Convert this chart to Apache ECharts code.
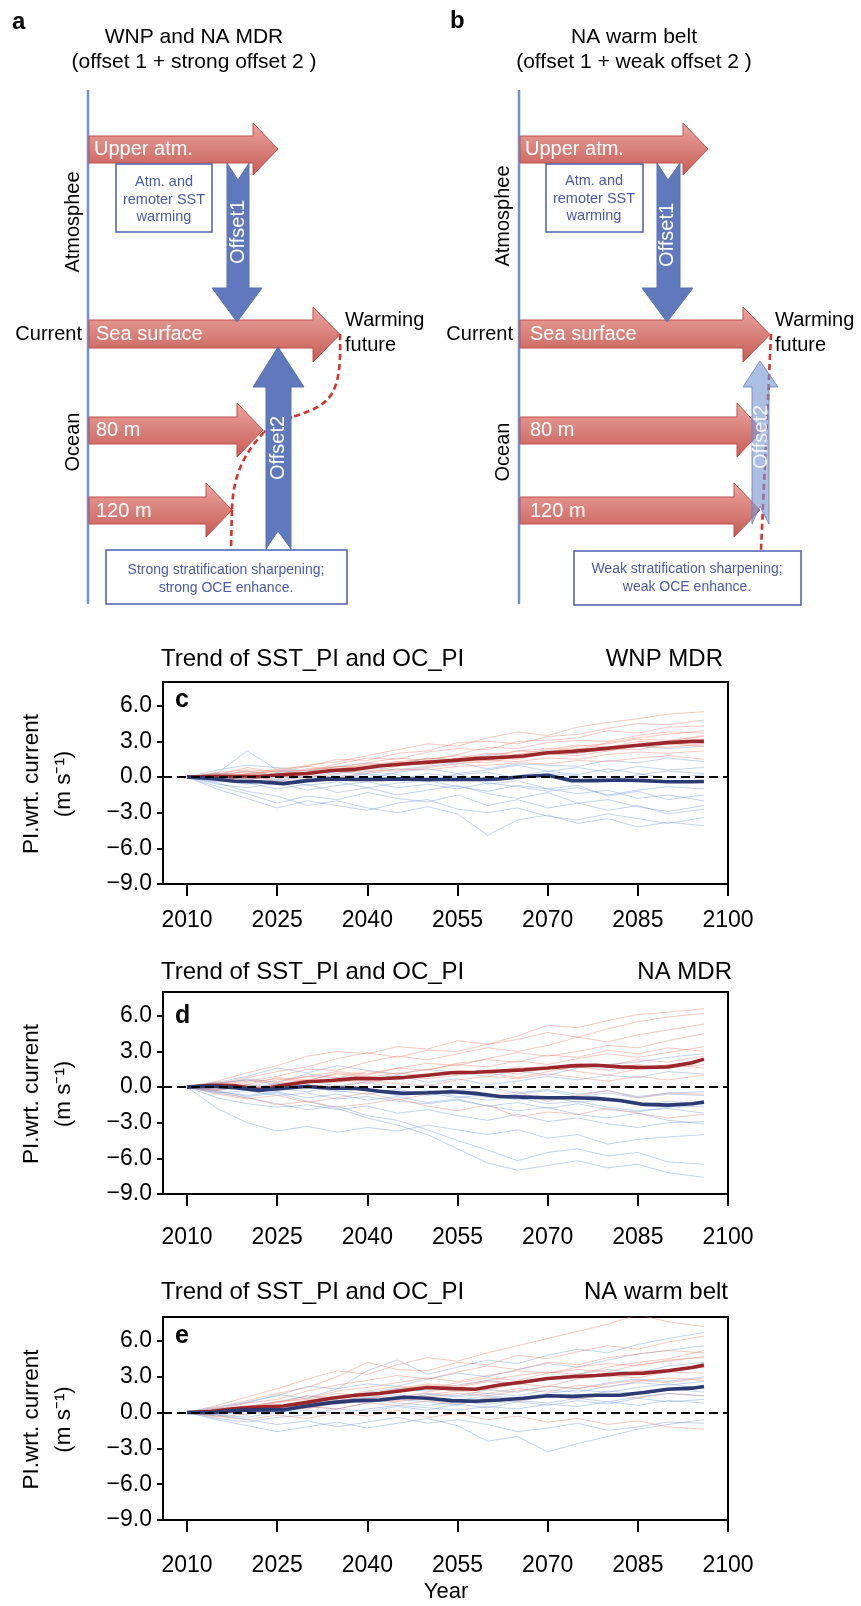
<!DOCTYPE html>
<html><head><meta charset="utf-8">
<script src="https://cdn.jsdelivr.net/npm/echarts@6/dist/echarts.min.js"></script>
<style>html,body{margin:0;padding:0;background:#fff}#main{width:861px;height:1606px}</style>
</head><body><div id="main"></div>
<script>
// ---------- DATA ----------
const xTicks = [2010, 2025, 2040, 2055, 2070, 2085, 2100];
const yTicks = [-9, -6, -3, 0, 3, 6];
const panelTitles = ['Trend of SST_PI and OC_PI', 'Trend of SST_PI and OC_PI', 'Trend of SST_PI and OC_PI'];
const regionNames = ['WNP MDR', 'NA MDR', 'NA warm belt'];
const panelLetters = ['c', 'd', 'e'];

// years for ensemble means
const yearsMean = [2010,2014,2018,2022,2026,2030,2034,2038,2042,2046,2050,2054,2058,2062,2066,2070,2074,2078,2082,2086,2090,2094,2096];
// years for individual members
const yearsRun = [2010,2015,2020,2025,2030,2035,2040,2045,2050,2055,2060,2065,2070,2075,2080,2085,2090,2096];

// panel c (WNP MDR)
const cRedMean  = [0,0.05,0.05,0.05,0.2,0.3,0.55,0.65,0.93,1.1,1.25,1.38,1.55,1.65,1.77,2.05,2.15,2.33,2.53,2.72,2.9,3.0,3.0];
const cBlueMean = [0,-0.12,-0.35,-0.4,-0.55,-0.3,-0.15,-0.2,-0.2,-0.15,-0.2,-0.2,-0.2,-0.15,0.05,0.15,-0.3,-0.3,-0.25,-0.3,-0.4,-0.4,-0.37];
const cRedRuns = [
 [0,0.4,0.6,0.5,1.0,1.3,1.8,2.3,2.8,2.6,3.3,3.8,3.5,4.2,4.6,4.9,5.3,5.5],
 [0,0.2,0.8,0.4,0.9,1.5,1.4,2.0,2.2,2.9,3.0,2.8,3.4,3.6,4.1,4.5,4.4,4.8],
 [0,0.3,0.1,0.6,0.5,1.1,1.6,1.5,2.1,2.4,2.3,3.0,3.1,3.3,3.9,3.7,4.2,4.3],
 [0,-0.2,0.3,0.2,0.7,0.8,1.2,1.6,1.4,1.9,2.5,2.4,2.9,3.1,3.0,3.5,3.8,3.7],
 [0,0.1,-0.3,0.3,0.4,0.6,0.9,1.1,1.6,1.5,1.8,2.2,2.1,2.6,2.8,3.2,3.1,3.4],
 [0,-0.3,0.0,-0.2,0.3,0.5,0.4,0.9,1.2,1.3,1.2,1.7,1.9,2.0,2.4,2.3,2.8,2.6],
 [0,0.2,-0.1,0.1,-0.1,0.3,0.6,0.5,0.8,1.1,1.4,1.3,1.6,1.5,1.9,2.1,2.0,2.2],
 [0,-0.1,0.2,-0.4,0.1,0.0,0.3,0.7,0.6,0.9,1.0,1.2,1.1,1.4,1.3,1.6,1.8,1.5],
 [0,0.2,0.4,0.1,0.6,0.9,0.7,1.3,1.5,1.8,1.6,2.2,2.4,2.3,2.9,3.3,3.6,3.9],
 [0,-0.1,0.3,0.5,0.2,0.7,1.0,1.3,1.1,1.6,2.0,1.9,2.3,2.7,2.5,3.0,2.9,3.2],
 [0,0.3,0.2,0.7,0.9,0.6,1.1,1.0,1.4,1.3,1.7,1.5,2.0,1.8,2.2,2.6,2.5,2.8],
 [0,0.1,0.5,0.3,0.4,0.9,0.8,1.2,1.0,1.5,1.4,1.9,2.1,2.4,2.2,2.7,3.0,3.5]
];
const cBlueRuns = [
 [0,0.6,1.0,0.8,0.5,0.9,1.2,1.0,1.6,1.4,1.9,1.7,2.2,2.0,2.3,2.6,2.4,2.6],
 [0,0.3,-0.2,0.4,0.6,0.3,0.8,0.6,0.9,1.2,0.7,1.1,1.0,0.9,1.4,1.2,1.6,1.3],
 [0,-0.4,0.2,-0.3,0.1,-0.2,0.3,0.0,-0.4,0.2,0.4,-0.1,0.3,0.1,-0.3,0.2,0.5,0.3],
 [0,-0.6,-0.9,-0.5,-1.1,-0.7,-0.4,-0.9,-0.6,-1.0,-0.5,-0.8,-1.2,-0.9,-1.5,-1.1,-0.8,-1.0],
 [0,-0.8,-1.4,-2.2,-1.6,-1.9,-1.3,-1.8,-2.1,-1.5,-2.4,-1.9,-2.6,-2.2,-2.8,-2.4,-3.1,-2.7],
 [0,-1.0,-1.8,-2.6,-2.0,-2.4,-2.8,-2.2,-1.9,-2.7,-3.0,-2.6,-3.3,-3.6,-3.1,-3.5,-3.9,-3.4],
 [0,-0.5,-1.2,-1.6,-2.4,-2.0,-2.6,-3.0,-2.5,-3.1,-4.9,-3.6,-3.2,-3.9,-3.5,-4.2,-3.8,-4.1],
 [0,0.3,2.2,0.6,0.3,-0.2,0.5,0.2,-0.4,0.3,-0.6,-0.3,-1.0,-0.7,-1.6,-1.2,-1.9,-1.5],
 [0,-0.3,-0.6,-0.2,-0.7,-0.4,-0.9,-0.5,-0.3,-0.8,-1.2,-0.7,-1.0,-1.4,-1.1,-1.8,-1.5,-2.0],
 [0,0.2,0.5,0.1,-0.3,0.2,-0.1,0.4,0.7,0.3,0.6,1.0,0.5,0.8,0.4,0.9,0.6,0.8],
 [0,-0.2,-0.5,-1.0,-0.6,-1.3,-0.9,-1.5,-1.1,-0.7,-1.4,-1.8,-1.3,-2.2,-1.9,-2.5,-2.9,-2.4],
 [0,0.1,-0.3,0.3,-0.1,0.5,0.2,-0.2,0.3,0.0,-0.4,0.1,0.5,0.2,0.7,0.3,-0.1,0.2]
];

// panel d (NA MDR)
const dRedMean  = [0,0.15,0.1,-0.2,0.15,0.45,0.55,0.73,0.7,0.8,1.0,1.2,1.25,1.35,1.45,1.6,1.78,1.83,1.7,1.65,1.7,2.05,2.35];
const dBlueMean = [0,0.08,-0.05,-0.28,-0.1,0.05,-0.1,-0.1,-0.35,-0.53,-0.48,-0.4,-0.53,-0.8,-0.85,-0.9,-0.9,-0.95,-1.13,-1.46,-1.52,-1.4,-1.27];
const dRedRuns = [
 [0,0.5,1.2,1.8,2.6,3.0,2.8,3.4,3.2,3.9,3.6,4.3,5.2,5.0,5.6,6.1,6.3,6.6],
 [0,0.3,0.8,1.3,1.7,2.4,2.9,2.5,3.1,3.0,3.6,4.0,4.6,4.2,4.9,5.5,5.9,6.2],
 [0,0.2,0.5,0.9,1.5,1.4,2.1,2.6,2.3,2.8,3.3,3.0,3.5,4.2,3.8,4.4,4.8,5.3],
 [0,-0.2,0.4,0.7,0.5,1.2,1.0,1.6,2.0,1.8,2.4,2.9,2.6,3.0,3.5,3.3,3.9,4.5],
 [0,0.3,0.0,0.6,0.9,0.8,1.3,1.1,1.5,1.9,1.7,2.2,1.9,2.4,2.8,2.5,2.9,3.4],
 [0,-0.3,0.2,-0.1,0.4,0.6,0.3,0.9,0.7,1.0,1.4,1.1,1.6,1.3,1.0,1.5,1.9,1.6],
 [0,-0.6,-1.0,-0.7,-1.3,-0.9,-0.5,-1.1,-0.6,-0.2,-0.8,-0.4,-1.2,-0.7,-0.3,-0.9,-0.5,-0.6],
 [0,-0.4,-0.9,-1.5,-1.2,-1.7,-1.4,-1.0,-1.6,-2.0,-1.5,-2.5,-2.1,-2.3,-1.8,-2.2,-2.6,-2.3],
 [0,0.3,0.6,0.4,0.9,1.3,1.1,1.6,1.4,2.0,2.3,2.1,2.7,2.5,3.1,2.8,3.3,3.0],
 [0,0.1,-0.2,0.3,0.6,0.4,0.8,1.2,0.9,1.3,1.1,1.7,1.5,2.0,1.8,2.3,2.1,2.6],
 [0,0.4,0.2,0.8,0.6,1.1,0.9,0.6,1.0,1.4,1.2,0.8,1.3,1.7,1.4,1.9,1.6,1.9],
 [0,-0.2,0.1,-0.3,0.2,0.0,0.5,0.3,0.1,0.6,0.9,0.7,1.1,0.8,0.5,0.9,0.6,1.0]
];
const dBlueRuns = [
 [0,0.4,0.9,1.6,1.2,1.8,1.4,1.1,1.5,1.2,0.9,1.4,1.0,1.6,1.9,2.1,2.5,2.8],
 [0,0.2,0.7,0.4,1.1,0.8,0.6,1.0,0.4,0.7,0.2,0.5,0.9,0.6,1.0,0.8,1.3,1.1],
 [0,-0.3,0.1,-0.4,0.2,-0.3,-0.6,-0.2,-0.7,-0.4,-0.9,-0.6,-0.3,-0.8,-0.5,-0.9,-0.6,-0.7],
 [0,-0.5,-0.3,-0.7,-0.5,-1.0,-0.8,-1.2,-1.4,-1.1,-1.6,-1.3,-1.8,-1.4,-1.9,-2.1,-1.7,-1.6],
 [0,-0.9,-1.4,-1.7,-1.5,-1.9,-1.6,-2.2,-1.9,-2.4,-2.8,-2.3,-2.9,-2.6,-3.1,-3.4,-3.0,-2.9],
 [0,-1.8,-3.0,-3.7,-3.3,-3.8,-3.4,-3.7,-3.2,-3.6,-4.0,-3.6,-4.3,-4.0,-4.8,-4.4,-4.2,-4.0],
 [0,-0.5,-0.9,-1.4,-1.9,-1.6,-2.4,-2.8,-3.6,-4.5,-5.3,-6.2,-5.5,-5.2,-5.8,-5.5,-6.3,-6.5],
 [0,-0.3,-0.8,-0.5,-1.2,-1.8,-2.6,-3.2,-4.0,-5.2,-6.4,-7.0,-6.6,-6.2,-6.8,-6.5,-7.2,-7.6],
 [0,-0.2,0.2,-0.1,-0.4,0.1,-0.3,-0.7,-0.5,-0.9,-0.6,-1.1,-0.8,-1.3,-1.0,-1.5,-1.2,-1.4],
 [0,0.2,-0.1,0.3,0.0,-0.4,-0.2,-0.6,-0.3,-0.8,-1.1,-0.9,-1.4,-1.2,-1.7,-2.0,-1.8,-2.2],
 [0,-0.4,-0.7,-0.4,-0.9,-0.6,-1.1,-0.8,-1.3,-1.0,-1.6,-2.0,-1.7,-2.3,-2.6,-2.2,-2.8,-3.1],
 [0,0.3,0.6,0.2,0.5,0.1,0.4,-0.1,0.2,-0.3,0.0,-0.5,-0.2,-0.6,-0.3,-0.8,-0.5,-0.4]
];

// panel e (NA warm belt)
const eRedMean  = [0,0.08,0.33,0.45,0.55,0.85,1.2,1.45,1.6,1.85,2.1,2.0,1.95,2.3,2.55,2.85,3.0,3.1,3.25,3.3,3.5,3.77,3.97];
const eBlueMean = [0,0,0.17,0.22,0.22,0.55,0.83,1.0,1.05,1.28,1.2,1.0,0.95,1.05,1.2,1.4,1.35,1.45,1.45,1.68,1.95,2.04,2.18];
const eRedRuns = [
 [0,0.6,1.3,2.0,2.8,3.5,3.2,4.0,4.6,4.3,5.0,5.6,6.2,6.8,7.4,8.2,7.6,7.2],
 [0,0.4,1.0,1.6,2.1,3.0,4.2,3.6,3.5,4.2,4.0,4.8,4.5,5.1,5.6,5.3,5.9,6.4],
 [0,0.2,0.8,1.1,1.8,2.3,2.7,3.1,2.8,3.4,3.9,3.6,4.2,4.0,4.6,4.9,5.2,5.0],
 [0,0.3,0.5,0.9,1.2,1.8,2.1,2.5,2.9,2.6,3.1,3.5,3.3,3.8,4.1,3.9,4.4,4.6],
 [0,0.1,0.6,0.4,1.0,1.3,1.6,1.9,2.3,2.1,2.6,2.4,2.9,3.2,3.0,3.5,3.4,3.8],
 [0,-0.2,0.3,0.6,0.4,0.9,1.2,1.0,1.5,1.8,1.6,2.0,1.7,2.3,2.1,2.6,2.9,2.7],
 [0,-0.4,-0.1,0.2,0.5,0.3,0.8,0.6,1.0,0.7,1.2,0.9,1.4,1.1,1.5,1.2,1.6,1.4],
 [0,-0.3,-0.6,-0.2,-0.5,0.0,-0.3,0.2,-0.4,-0.1,-0.6,-0.3,-0.8,-0.5,-1.0,-0.7,-1.2,-1.4],
 [0,0.2,0.5,0.8,1.4,1.2,1.8,2.2,2.0,2.5,2.9,2.7,3.3,3.6,3.4,4.0,4.3,4.7],
 [0,0.4,0.3,0.9,1.1,1.6,1.4,2.0,2.4,2.2,2.7,3.1,3.4,3.2,3.8,4.2,4.5,5.2],
 [0,0.1,0.4,0.2,0.7,1.0,1.4,1.2,1.7,2.1,1.9,2.4,2.2,2.8,3.1,2.9,3.4,3.3],
 [0,-0.1,0.2,0.5,0.3,0.8,1.1,0.9,1.3,1.6,1.4,1.8,2.2,2.0,2.4,2.7,2.5,2.9]
];
const eBlueRuns = [
 [0,0.3,0.9,1.4,2.2,2.0,3.5,4.4,3.2,3.8,4.4,4.1,4.8,5.3,5.0,5.7,6.2,6.7],
 [0,0.5,0.8,1.5,1.2,2.0,2.4,2.2,2.8,3.3,3.0,3.6,4.1,3.8,4.4,4.9,5.2,5.6],
 [0,0.2,0.5,0.9,1.4,1.1,1.7,2.0,1.8,2.3,2.7,2.4,2.9,3.2,3.6,3.3,3.9,4.2],
 [0,0.1,-0.2,0.4,0.7,1.0,0.8,1.3,1.6,1.4,1.9,1.7,2.2,2.0,2.5,2.8,2.6,3.0],
 [0,-0.3,0.2,0.0,0.5,0.3,0.8,1.1,0.9,0.6,1.3,1.1,1.5,1.2,1.8,1.6,2.0,1.7],
 [0,-0.5,-0.8,-0.4,-0.2,0.3,0.1,0.5,0.2,0.7,0.4,0.9,0.6,1.0,0.7,1.2,0.9,1.1],
 [0,-0.6,-1.1,-1.6,-1.2,-0.8,-1.3,-0.9,-0.5,-1.1,-2.4,-2.0,-3.3,-2.6,-2.0,-1.4,-1.0,-0.6],
 [0,-0.2,-0.6,-1.0,-0.7,-1.2,-0.8,-0.4,-0.9,-0.6,-1.0,-1.6,-1.3,-0.9,-1.5,-1.2,-0.8,-0.9],
 [0,0.2,0.4,0.3,0.7,1.0,1.3,1.1,1.5,1.3,1.6,1.4,1.9,1.7,2.2,2.5,2.3,2.6],
 [0,-0.1,0.3,0.6,0.4,0.8,1.2,1.5,1.2,1.0,1.4,1.2,1.6,1.9,1.7,2.1,2.4,2.0],
 [0,0.3,0.1,0.5,0.9,0.7,1.1,0.8,0.6,0.9,0.7,1.0,0.8,1.2,0.9,1.3,1.6,1.4],
 [0,-0.2,-0.4,0.0,0.2,-0.1,0.3,0.6,0.4,0.2,0.5,0.3,0.7,0.5,0.9,0.6,1.0,0.8]
];

// ---------- LAYOUT / STYLE ----------
const FONT = '"Liberation Sans", Arial, Helvetica, sans-serif';
const RED_THIN = 'rgba(238,135,112,0.5)';
const BLUE_THIN = 'rgba(120,160,218,0.5)';
const RED_THICK = '#9b272c';
const BLUE_THICK = '#2c3a74';

const gridTops = [682, 992, 1317];
const gridH = [202, 202, 203];
const gridLeft = 163, gridW = 565;
const labelMargins = [25, 32, 34];
const titleY = [659, 972, 1292];
const regionRight = [723, 732, 728];

const panels = [
  {red: cRedRuns, blue: cBlueRuns, redMean: cRedMean, blueMean: cBlueMean},
  {red: dRedRuns, blue: dBlueRuns, redMean: dRedMean, blueMean: dBlueMean},
  {red: eRedRuns, blue: eBlueRuns, redMean: eRedMean, blueMean: eBlueMean}
];

const pairs = (xs, ys) => xs.map((x, k) => [x, ys[k]]);
const fmt = v => (v < 0 ? '\u2212' : '') + Math.abs(v).toFixed(1);

const grid = [], xAxis = [], yAxis = [], series = [];
panels.forEach((p, i) => {
  grid.push({left: gridLeft, top: gridTops[i], width: gridW, height: gridH[i], show: true,
    borderColor: '#000', borderWidth: 2, backgroundColor: 'transparent'});
  xAxis.push({type: 'value', gridIndex: i, min: 2006, max: 2100,
    axisLine: {show: true, onZero: false, lineStyle: {color: '#000', width: 2}},
    axisTick: {show: true, length: 12, inside: false, customValues: xTicks, lineStyle: {color: '#000', width: 2}},
    axisLabel: {customValues: xTicks, fontSize: 23, color: '#000', fontFamily: FONT, margin: labelMargins[i],
      formatter: v => String(v)},
    splitLine: {show: false}});
  yAxis.push({type: 'value', gridIndex: i, min: -9, max: 8,
    axisLine: {show: true, lineStyle: {color: '#000', width: 2}},
    axisTick: {show: true, length: 6, inside: false, customValues: yTicks, lineStyle: {color: '#000', width: 2}},
    axisLabel: {customValues: yTicks, fontSize: 23, color: '#000', fontFamily: FONT, margin: 11, formatter: fmt},
    splitLine: {show: false}});
  const n = Math.max(p.red.length, p.blue.length);
  for (let k = 0; k < n; k++) {
    [[p.red[k], RED_THIN], [p.blue[k], BLUE_THIN]].forEach(([run, col]) => {
      if (!run) return;
      series.push({type: 'line', xAxisIndex: i, yAxisIndex: i, data: pairs(yearsRun, run),
        symbol: 'none', silent: true, z: 1, lineStyle: {width: 0.9, color: col}});
    });
  }
  series.push({type: 'line', xAxisIndex: i, yAxisIndex: i, data: pairs(yearsMean, p.redMean),
    symbol: 'none', silent: true, z: 3, lineStyle: {width: 3.6, color: RED_THICK}});
  series.push({type: 'line', xAxisIndex: i, yAxisIndex: i, data: pairs(yearsMean, p.blueMean),
    symbol: 'none', silent: true, z: 3, lineStyle: {width: 3.6, color: BLUE_THICK}});
  series.push({type: 'line', xAxisIndex: i, yAxisIndex: i, data: [], symbol: 'none', silent: true, z: 6,
    markLine: {silent: true, symbol: ['none', 'none'], label: {show: false}, animation: false,
      lineStyle: {color: '#000', width: 2.2, type: [9, 5]}, data: [{yAxis: 0}]}});
});

// ---------- GRAPHIC (diagrams a, b and chart texts) ----------
const G = [];
function txt(x, y, text, size, opts) {
  opts = opts || {};
  G.push({type: 'text', x: x, y: y, rotation: opts.rot || 0, z: opts.z || 20,
    style: {text: text, fontSize: size, fontFamily: FONT, fontWeight: opts.bold ? 'bold' : 'normal',
      fill: opts.color || '#000', textAlign: opts.align || 'left', textVerticalAlign: 'middle'}});
}
const redGrad = () => new echarts.graphic.LinearGradient(0, 0, 0, 1,
  [{offset: 0, color: '#eba59f'}, {offset: 1, color: '#c65c56'}]);
function rightArrow(x0, xb, xt, yt, yb, ht, hb) {
  const ym = (ht + hb) / 2;
  G.push({type: 'polygon', z: 5, shape: {points: [[x0, yt], [xb, yt], [xb, ht], [xt, ym], [xb, hb], [xb, yb], [x0, yb]]},
    style: {fill: redGrad(), stroke: '#c24f4a', lineWidth: 1}});
}
function vArrow(pts, fill, stroke) {
  G.push({type: 'polygon', z: 8, shape: {points: pts}, style: {fill: fill, stroke: stroke, lineWidth: 1}});
}
function box(x, y, w, h) {
  G.push({type: 'rect', z: 10, shape: {x: x, y: y, width: w, height: h},
    style: {fill: '#fff', stroke: '#4c5cb0', lineWidth: 1.5}});
}
const BOXTXT = '#4a5aae';

// panel a
txt(12, 22, 'a', 24, {bold: true});
txt(194, 37, 'WNP and NA MDR', 21, {align: 'center'});
txt(194, 62, '(offset 1 + strong offset 2 )', 21, {align: 'center'});
G.push({type: 'line', z: 4, shape: {x1: 88, y1: 90, x2: 88, y2: 604}, style: {stroke: '#6f90d2', lineWidth: 2.5}});
rightArrow(89, 253, 278, 136, 163, 123, 175);
rightArrow(89, 313, 340, 320, 348, 307, 362);
rightArrow(89, 237, 263, 417, 444, 403, 457);
rightArrow(89, 206, 232, 497, 524, 483, 537);
const dashStyle = {stroke: '#d8322b', lineWidth: 2.6, lineDash: [6, 4], fill: null};
G.push({type: 'bezierCurve', z: 7, shape: {x1: 340, y1: 334, cpx1: 342, cpy1: 398, cpx2: 330, cpy2: 405, x2: 292, y2: 417}, style: dashStyle});
G.push({type: 'line', z: 7, shape: {x1: 292, y1: 417, x2: 264, y2: 432}, style: dashStyle});
G.push({type: 'bezierCurve', z: 7, shape: {x1: 264, y1: 432, cpx1: 248, cpy1: 450, cpx2: 233, cpy2: 470, x2: 232, y2: 510}, style: dashStyle});
G.push({type: 'line', z: 7, shape: {x1: 232, y1: 510, x2: 231, y2: 549}, style: dashStyle});
vArrow([[227, 163], [238, 180], [249, 163], [249, 288], [262, 288], [237, 322], [212, 288], [227, 288]], '#6079bd', '#5870b6');
vArrow([[266, 549], [278, 531], [291, 549], [291, 387], [304, 387], [278, 347], [253, 387], [266, 387]], '#6079bd', '#5870b6');
txt(94, 149, 'Upper atm.', 20, {color: '#fff', z: 9});
txt(96, 334, 'Sea surface', 20, {color: '#fff', z: 9});
txt(96, 430, '80 m', 20, {color: '#fff', z: 9});
txt(96, 511, '120 m', 20, {color: '#fff', z: 9});
txt(238, 232, 'Offset1', 20, {color: '#fff', align: 'center', rot: Math.PI / 2});
txt(278, 448, 'Offset2', 20, {color: '#fff', align: 'center', rot: Math.PI / 2});
txt(82, 334, 'Current', 20, {align: 'right'});
txt(345, 320, 'Warming', 20);
txt(345, 345, 'future', 20);
txt(73, 222, 'Atmosphee', 20, {align: 'center', rot: Math.PI / 2});
txt(73, 442, 'Ocean', 20, {align: 'center', rot: Math.PI / 2});
box(116, 164, 96, 68);
txt(164, 182, 'Atm. and', 14.5, {align: 'center', color: BOXTXT});
txt(164, 200, 'remoter SST', 14.5, {align: 'center', color: BOXTXT});
txt(164, 217, 'warming', 14.5, {align: 'center', color: BOXTXT});
box(106, 550, 241, 54);
txt(226, 570, 'Strong stratification sharpening;', 14, {align: 'center', color: BOXTXT});
txt(226, 588, 'strong OCE enhance.', 14, {align: 'center', color: BOXTXT});

// panel b
txt(450, 21, 'b', 24, {bold: true});
txt(634, 37, 'NA warm belt', 21, {align: 'center'});
txt(634, 62, '(offset 1 + weak offset 2 )', 21, {align: 'center'});
G.push({type: 'line', z: 4, shape: {x1: 519, y1: 90, x2: 519, y2: 604}, style: {stroke: '#6f90d2', lineWidth: 2.5}});
rightArrow(520, 683, 708, 136, 163, 123, 175);
rightArrow(520, 743, 770, 320, 348, 307, 362);
rightArrow(520, 737, 762, 417, 444, 403, 457);
rightArrow(520, 734, 760, 497, 524, 483, 537);
G.push({type: 'line', z: 7, shape: {x1: 771, y1: 334, x2: 761, y2: 550}, style: dashStyle});
vArrow([[657, 163], [668, 180], [680, 163], [680, 288], [693, 288], [667, 322], [642, 288], [657, 288]], '#6079bd', '#5870b6');
vArrow([[752, 524], [760, 506], [769, 524], [769, 387], [778, 387], [760, 361], [743, 387], [752, 387]], 'rgba(120,150,210,0.62)', 'rgba(95,125,200,0.8)');
txt(525, 149, 'Upper atm.', 20, {color: '#fff', z: 9});
txt(530, 334, 'Sea surface', 20, {color: '#fff', z: 9});
txt(530, 430, '80 m', 20, {color: '#fff', z: 9});
txt(530, 511, '120 m', 20, {color: '#fff', z: 9});
txt(667, 235, 'Offset1', 20, {color: '#fff', align: 'center', rot: Math.PI / 2});
txt(761, 437, 'Offset2', 20, {color: 'rgba(255,255,255,0.85)', align: 'center', rot: Math.PI / 2});
txt(513, 334, 'Current', 20, {align: 'right'});
txt(775, 320, 'Warming', 20);
txt(775, 345, 'future', 20);
txt(503, 216, 'Atmosphee', 20, {align: 'center', rot: Math.PI / 2});
txt(503, 452, 'Ocean', 20, {align: 'center', rot: Math.PI / 2});
box(546, 164, 97, 68);
txt(594, 181, 'Atm. and', 14.5, {align: 'center', color: BOXTXT});
txt(594, 199, 'remoter SST', 14.5, {align: 'center', color: BOXTXT});
txt(594, 216, 'warming', 14.5, {align: 'center', color: BOXTXT});
box(574, 551, 227, 54);
txt(687, 569, 'Weak stratification sharpening;', 14, {align: 'center', color: BOXTXT});
txt(687, 587, 'weak OCE enhance.', 14, {align: 'center', color: BOXTXT});

// chart texts
const letterY = [700, 1016, 1336];
panels.forEach((p, i) => {
  txt(161, titleY[i], panelTitles[i], 24);
  txt(regionRight[i], titleY[i], regionNames[i], 24, {align: 'right'});
  txt(175, letterY[i], panelLetters[i], 25, {bold: true});
  const cy = gridTops[i] + gridH[i] / 2 + 1;
  txt(32, cy, 'PI.wrt. current', 22.5, {align: 'center', rot: Math.PI / 2});
  txt(64, cy, '(m s\u207B\u00B9)', 22.5, {align: 'center', rot: Math.PI / 2});
});
txt(446, 1592, 'Year', 22, {align: 'center'});

const chart = echarts.init(document.getElementById('main'), null, {renderer: 'canvas', width: 861, height: 1606});
chart.setOption({
  animation: false,
  backgroundColor: '#fff',
  textStyle: {fontFamily: FONT},
  grid: grid, xAxis: xAxis, yAxis: yAxis, series: series,
  graphic: {elements: G}
});
</script>
</body></html>
